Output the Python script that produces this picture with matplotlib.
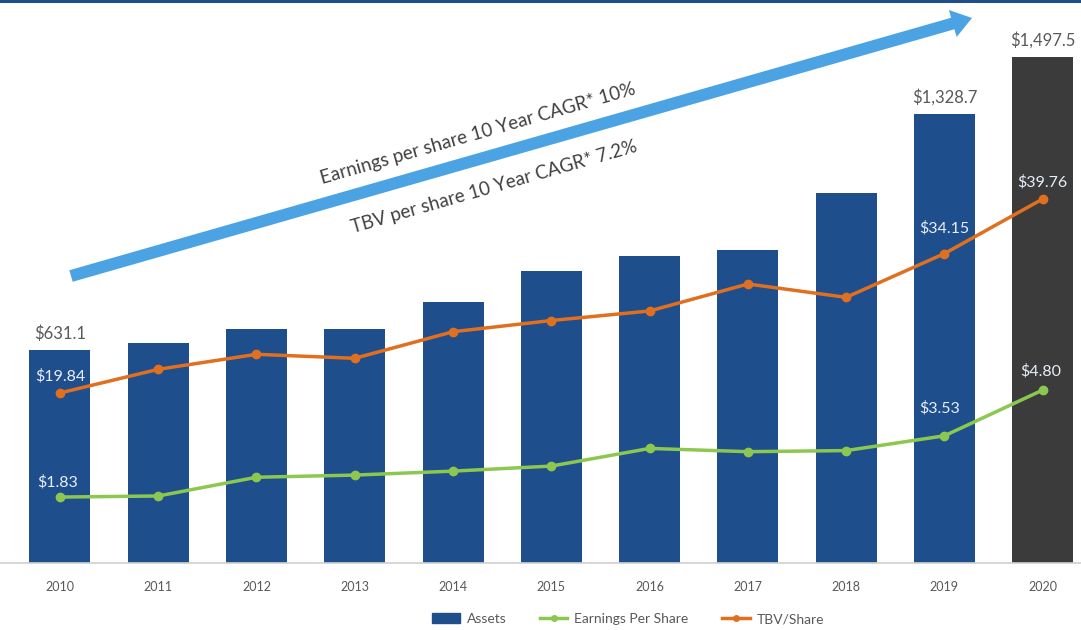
import matplotlib
matplotlib.use("Agg")
import matplotlib.pyplot as plt
from matplotlib.patches import FancyArrow, Rectangle
from matplotlib.lines import Line2D
from matplotlib.patches import Patch

plt.rcParams['font.family'] = ['Lato', 'DejaVu Sans']

years = ['2010', '2011', '2012', '2013', '2014', '2015', '2016', '2017', '2018', '2019', '2020']
assets = [631.1, 650, 691, 691, 771, 864, 909, 926, 1094, 1328.7, 1497.5]
eps = [1.83, 1.86, 2.38, 2.44, 2.55, 2.69, 3.18, 3.09, 3.12, 3.53, 4.80]
tbv = [19.84, 22.27, 23.81, 23.40, 26.13, 27.28, 28.26, 31.03, 29.66, 34.15, 39.76]

asset_labels = {0: '$631.1', 9: '$1,328.7', 10: '$1,497.5'}
eps_labels = {0: '$1.83', 9: '$3.53', 10: '$4.80'}
tbv_labels = {0: '$19.84', 9: '$34.15', 10: '$39.76'}

W, H = 1081, 630
fig = plt.figure(figsize=(W / 100, H / 100), dpi=100)

base_px = 563
ax = fig.add_axes([0, (H - base_px) / H, 1, base_px / H])
x = list(range(len(years)))
bar_colors = ['#1f4e8c'] * 10 + ['#3b3b3b']
ax.bar(x, assets, width=0.62, color=bar_colors, zorder=2)
ax.set_xlim(-0.61, 10.39)
ax.set_ylim(0, 563 / 0.338)
for s in ['top', 'right', 'left']:
    ax.spines[s].set_visible(False)
ax.spines['bottom'].set_color('#d0d0d0')
ax.spines['bottom'].set_linewidth(1.2)
ax.set_yticks([])
ax.set_xticks(x)
ax.set_xticklabels(years, fontsize=9, color='#595959')
ax.tick_params(axis='x', length=0, pad=13)
for i, t in asset_labels.items():
    ax.annotate(t, (i, assets[i]), xytext=(0, 8), textcoords='offset pixels',
                ha='center', va='bottom', fontsize=12, color='#595959')

ax_eps = ax.twinx()
ax_eps.set_ylim(0, 563 / 36.03)
ax_eps.plot(x, eps, color='#8cc850', lw=2.5, marker='o', ms=6, zorder=3)
ax_eps.axis('off')
eps_off = {0: (-2, 15), 9: (-5, 28), 10: (-2, 19)}
for i, t in eps_labels.items():
    ax_eps.annotate(t, (i, eps[i]), xytext=eps_off[i], textcoords='offset pixels',
                    ha='center', va='center', fontsize=11.5, color='#e6eef8')

ax_tbv = ax.twinx()
tbv_scale = 9.739
tbv_bottom = (586.2 - 563) / tbv_scale
ax_tbv.set_ylim(tbv_bottom, tbv_bottom + 563 / tbv_scale)
ax_tbv.plot(x, tbv, color='#e07020', lw=2.5, marker='o', ms=6, zorder=3)
ax_tbv.axis('off')
tbv_off = {0: (0, 17), 9: (0, 25), 10: (0, 17)}
for i, t in tbv_labels.items():
    ax_tbv.annotate(t, (i, tbv[i]), xytext=tbv_off[i], textcoords='offset pixels',
                    ha='center', va='center', fontsize=11.5, color='#e6eef8')

# overlay in pixel coordinates for arrow and rotated text
ov = fig.add_axes([0, 0, 1, 1])
ov.set_xlim(0, W)
ov.set_ylim(H, 0)
ov.axis('off')
ov.patch.set_alpha(0)
x0, y0, x1, y1 = 71, 276, 972, 18
ov.add_patch(FancyArrow(x0, y0, x1 - x0, y1 - y0, width=12, head_width=28,
                        head_length=20, length_includes_head=True,
                        color='#4ba3e3', lw=0))
ov.add_patch(Rectangle((0, 0), W, 3, color='#1f4e8c', lw=0))
ov.text(478, 134, 'Earnings per share 10 Year CAGR* 10%', rotation=16,
        rotation_mode='anchor', ha='center', va='center', fontsize=13.5, color='#404040')
ov.text(494, 187, 'TBV per share 10 Year CAGR* 7.2%', rotation=16,
        rotation_mode='anchor', ha='center', va='center', fontsize=13.5, color='#404040')

handles = [Patch(color='#1f4e8c'),
           Line2D([], [], color='#8cc850', lw=2.5, marker='o', ms=4),
           Line2D([], [], color='#e07020', lw=2.5, marker='o', ms=4)]
fig.legend(handles, ['Assets', 'Earnings Per Share', 'TBV/Share'], loc='center',
           bbox_to_anchor=(628 / W, 1 - 619 / H), ncol=3, frameon=False, fontsize=10,
           labelcolor='#595959', handlelength=2.0, columnspacing=2.4, handletextpad=0.5)

fig.savefig('out.png', dpi=100)
